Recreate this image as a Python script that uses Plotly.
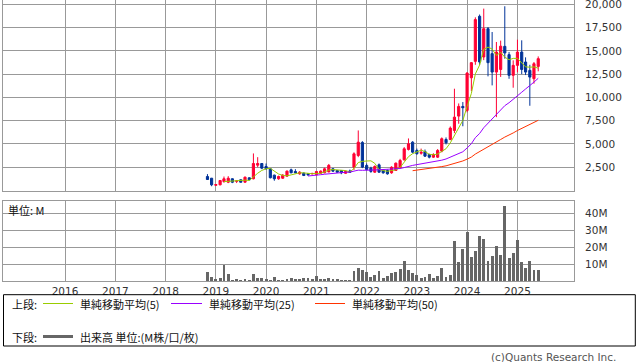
import pandas as pd
import plotly.graph_objects as go

# ---------------- data (monthly, Nov 2018 - Jun 2025) ----------------
start_month = "2018-11-01"
end_month = "2025-06-01"

opens = [1500, 1320, 560, 610, 970, 890, 1260, 1000, 1150, 890, 1365, 1260,
         2720, 2900, 2580, 2330, 1650, 1260, 1320, 1540, 2220, 2040, 1790, 1860,
         1790, 1800, 1690, 1860, 1900, 2000, 2330, 2150, 2150, 1850, 2100, 2500,
         3760, 5160, 2690, 2400, 1970, 2760, 2220, 2150, 1900, 2150, 2440, 3300,
         4410, 5190, 4300, 4000, 4190, 3870, 3580, 3580, 4230, 5480, 5480, 6450,
         7990, 9030, 8600, 12110, 13870, 18710, 14340, 17380, 14700, 12720, 13000, 15480,
         14590, 12370, 13440, 14870, 13800, 12900, 12010, 13330]
highs = [1760, 1350, 700, 1100, 1500, 1540, 1300, 1080, 1180, 1500, 1400, 3980,
         3580, 2950, 2900, 2400, 1700, 1600, 1750, 2150, 2350, 2290, 2080, 1950,
         1850, 1900, 2100, 2150, 2450, 2850, 2400, 2200, 2200, 2150, 2250, 4100,
         6450, 5300, 2900, 2550, 2700, 2900, 2300, 2250, 2600, 3000, 3400, 4660,
         5590, 5300, 4500, 4500, 4400, 3950, 4000, 4450, 5700, 5700, 6880, 10930,
         9350, 9500, 12720, 13800, 18600, 18900, 19535, 17560, 17020, 15950, 16100, 19785,
         14870, 13980, 16200, 16130, 14300, 13500, 13800, 14400]
lows = [1130, 460, 480, 560, 830, 790, 790, 800, 850, 860, 1100, 1200,
        2500, 2290, 2250, 1300, 1050, 1150, 1250, 1500, 1850, 1850, 1700, 1550,
        1600, 1720, 1650, 1800, 1850, 1950, 2000, 1900, 1750, 1800, 1900, 2200,
        3580, 2400, 2150, 1900, 1900, 1900, 1800, 1700, 1800, 2100, 2350, 3200,
        4300, 4000, 3850, 3850, 3600, 3450, 3500, 3500, 4100, 4950, 5400, 6160,
        7170, 6900, 8400, 10680, 13500, 13500, 14000, 12260, 11290, 7880, 12200, 14160,
        12000, 11040, 12700, 12500, 12400, 9100, 11470, 12800]
closes = [1180, 610, 640, 1075, 1260, 1320, 890, 1030, 890, 1430, 1150, 2900,
          2900, 2400, 2330, 1370, 1260, 1500, 1650, 2080, 1900, 1900, 1970, 1610,
          1690, 1830, 2040, 2080, 2330, 2700, 2080, 1970, 1900, 2050, 1950, 3940,
          5190, 2510, 2250, 2050, 2580, 1970, 1900, 1790, 2500, 2940, 3225, 4480,
          5020, 4120, 3950, 4100, 3690, 3580, 3870, 4300, 5560, 5130, 6700, 7880,
          9030, 8890, 12610, 13730, 18355, 13800, 17380, 13730, 12720, 14870, 15500, 14770,
          12370, 13440, 14870, 13000, 12720, 12180, 13620, 14160]
volume_m = [5.3, 2.4, 1.2, 1.8, 9.5, 4.2, 0.6, 1.2, 0.6, 1.2, 0.6, 4.2,
            2.0, 2.0, 1.2, 0.6, 2.4, 0.6, 0.6, 1.2, 1.8, 1.2, 1.2, 1.8,
            1.8, 1.2, 3.0, 1.2, 1.2, 1.8, 1.2, 1.2, 0.6, 0.6, 0.6, 5.9,
            7.7, 6.7, 5.3, 2.4, 3.6, 5.9, 1.8, 3.0, 4.8, 5.3, 7.1, 11.9,
            6.5, 4.8, 3.6, 1.8, 2.4, 4.2, 1.8, 3.0, 7.7, 2.4, 3.6, 23.8,
            11.3, 19.0, 29.1, 14.3, 17.8, 26.7, 25.0, 11.9, 14.9, 20.8, 15.4, 44.0,
            13.7, 16.6, 24.4, 11.3, 7.7, 11.9, 6.5, 6.5]

year_labels = ["2016", "2017", "2018", "2019", "2020", "2021", "2022", "2023", "2024", "2025"]
price_ticks = [2500, 5000, 7500, 10000, 12500, 15000, 17500, 20000]
volume_ticks = [10, 20, 30, 40]
ma_periods = [5, 25, 50]
legend_top_labels = ["単純移動平均(5)", "単純移動平均(25)", "単純移動平均(50)"]
legend_bottom_label = "出来高 単位:(M株/口/枚)"

# ---------------- styling ----------------
UP = "#ff0033"
DOWN = "#003399"
MA_COLORS = ["#99cc00", "#9900ff", "#ff3300"]
GRID = "#999999"
VOL = "#666666"
NUMFONT = "DejaVu Sans"
JPFONT = "Noto Sans CJK JP"

W, H = 638, 362
L, R, T, B = 3, 64, 0, 81
PW = W - L - R
PH = H - T - B


def px(x):
    return (x - L) / PW


def py(y):
    return 1 - (y - T) / PH


months = pd.date_range(start_month, end_month, freq="MS")
close_s = pd.Series(closes, dtype=float)

fig = go.Figure()
fig.add_trace(go.Candlestick(
    x=months, open=opens, high=highs, low=lows, close=closes,
    increasing=dict(line=dict(color=UP, width=1), fillcolor=UP),
    decreasing=dict(line=dict(color=DOWN, width=1), fillcolor=DOWN),
    whiskerwidth=0, xaxis="x", yaxis="y", hoverinfo="skip"))

for p, c in zip(ma_periods, MA_COLORS):
    fig.add_trace(go.Scatter(x=months, y=close_s.rolling(p).mean(), mode="lines",
                             line=dict(color=c, width=1), xaxis="x", yaxis="y",
                             hoverinfo="skip"))

fig.add_trace(go.Bar(x=months, y=volume_m, marker=dict(color=VOL, line=dict(width=0)),
                     width=21 * 86400000, xaxis="x2", yaxis="y2", hoverinfo="skip"))

year_vals = [f"{y}-01-01" for y in year_labels]
xrange = ["2014-10-07", "2026-02-16"]

common_x = dict(type="date", range=xrange, tickvals=year_vals, ticktext=year_labels,
                showgrid=True, gridcolor=GRID, gridwidth=1, showline=True, linecolor=GRID,
                linewidth=1, mirror=True, zeroline=False, ticks="",
                rangeslider=dict(visible=False), fixedrange=True)
common_y = dict(side="right", showgrid=True, gridcolor=GRID, gridwidth=1, showline=True,
                linecolor=GRID, linewidth=1, mirror=True, zeroline=False, ticks="",
                ticklabelstandoff=8, ticklabeloverflow="allow", automargin=False,
                fixedrange=True,
                tickfont=dict(family=NUMFONT, size=10.5, color="#333333"))

fig.update_layout(
    width=W, height=H, margin=dict(l=L, r=R, t=T, b=B, pad=0, autoexpand=False),
    paper_bgcolor="white", plot_bgcolor="white", showlegend=False,
    bargap=0, boxgap=0.2, hovermode=False,
    xaxis=dict(common_x, domain=[0, 1], anchor="y", showticklabels=False),
    xaxis2=dict(common_x, domain=[0, 1], anchor="y2", showticklabels=True,
                ticklabeloverflow="allow", automargin=False,
                tickfont=dict(family=NUMFONT, size=10.5, color="#333333")),
    yaxis=dict(common_y, domain=[py(190.5), 1], range=[0, 20460], anchor="x",
               tickvals=price_ticks, ticktext=[f"{v:,}" for v in price_ticks]),
    yaxis2=dict(common_y, domain=[0, py(201.3)], range=[0, 46.9], anchor="x2",
                tickvals=volume_ticks, ticktext=[f"{v}M" for v in volume_ticks]),
)

shapes = []
annotations = []

# legend box
shapes.append(dict(type="rect", xref="paper", yref="paper", x0=px(3.5), x1=px(635.3),
                   y0=py(294.7), y1=py(346), line=dict(color="#000000", width=1)))
row1, row2 = 303.5, 336.5
for (x0, x1), c, lab, tx in zip([(43, 73), (171, 202), (315, 345)], MA_COLORS,
                                legend_top_labels, [78, 207, 350]):
    shapes.append(dict(type="line", xref="paper", yref="paper", x0=px(x0), x1=px(x1),
                       y0=py(row1), y1=py(row1), line=dict(color=c, width=1)))
    annotations.append(dict(text=lab, x=px(tx), y=py(row1), xref="paper", yref="paper",
                            xanchor="left", yanchor="middle", showarrow=False,
                            font=dict(family=JPFONT, size=11, color="#111111")))
shapes.append(dict(type="line", xref="paper", yref="paper", x0=px(43), x1=px(73),
                   y0=py(row2), y1=py(row2), line=dict(color=VOL, width=3)))
annotations.append(dict(text=legend_bottom_label, x=px(78), y=py(row2), xref="paper", yref="paper",
                        xanchor="left", yanchor="middle", showarrow=False,
                        font=dict(family=JPFONT, size=11, color="#111111")))
annotations.append(dict(text="上段:", x=px(10), y=py(row1), xref="paper", yref="paper",
                        xanchor="left", yanchor="middle", showarrow=False,
                        font=dict(family=JPFONT, size=11, color="#111111")))
annotations.append(dict(text="下段:", x=px(10), y=py(row2), xref="paper", yref="paper",
                        xanchor="left", yanchor="middle", showarrow=False,
                        font=dict(family=JPFONT, size=11, color="#111111")))
annotations.append(dict(text="単位: M", x=px(6), y=py(209.5), xref="paper", yref="paper",
                        xanchor="left", yanchor="middle", showarrow=False,
                        font=dict(family=JPFONT, size=11, color="#111111")))
annotations.append(dict(text="(c)Quants Research Inc.", x=px(618), y=py(356.5), xref="paper",
                        yref="paper", xanchor="right", yanchor="middle", showarrow=False,
                        font=dict(family=NUMFONT, size=10.5, color="#555555")))

fig.update_layout(shapes=shapes, annotations=annotations)
fig.write_html("out.html", config={"displayModeBar": False, "staticPlot": True},
               post_script="document.body.style.margin='0px';")
